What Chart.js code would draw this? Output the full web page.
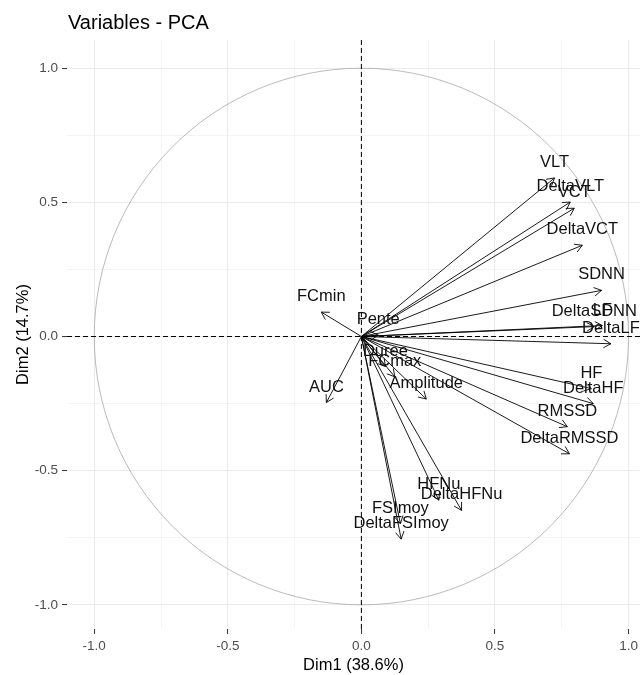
<!DOCTYPE html>
<html>
<head>
<meta charset="utf-8">
<script src="https://cdn.jsdelivr.net/npm/chart.js@4.4.1/dist/chart.umd.min.js"></script>
<style>
html, body { margin: 0; padding: 0; background: #fff; }
#wrap { width: 640px; height: 675px; }
</style>
</head>
<body>
<div id="wrap"><canvas id="pcaChart" width="640" height="675"></canvas></div>
<script>
// variable coordinates on the first two dimensions
const varNames = ['VLT', 'DeltaVLT', 'VCT', 'DeltaVCT', 'SDNN', 'DeltaSDNN', 'LF', 'DeltaLF',
    'HF', 'DeltaHF', 'RMSSD', 'DeltaRMSSD', 'HFNu', 'DeltaHFNu', 'FSImoy', 'DeltaFSImoy',
    'FCmin', 'AUC', 'Pente', 'Duree', 'FCmax', 'Amplitude'];
const dim1 = [0.723, 0.782, 0.797, 0.827, 0.899, 0.872, 0.902, 0.934,
    0.861, 0.868, 0.771, 0.779, 0.290, 0.375, 0.146, 0.149,
    -0.150, -0.131, 0.063, 0.090, 0.125, 0.243];
const dim2 = [0.591, 0.501, 0.478, 0.340, 0.172, 0.037, 0.041, -0.027,
    -0.194, -0.250, -0.336, -0.437, -0.610, -0.648, -0.697, -0.755,
    0.091, -0.246, 0.005, -0.112, -0.150, -0.233];
const axisTicks = [-1, -0.75, -0.5, -0.25, 0, 0.25, 0.5, 0.75, 1];

const FONT = "'Liberation Sans', Arial, sans-serif";
Chart.defaults.font.family = FONT;

function isMajor(v) {
    return Math.abs(v * 2 - Math.round(v * 2)) < 1e-6;
}

const datasets = varNames.map((name, i) => ({
    label: name,
    data: [{ x: 0, y: 0 }, { x: dim1[i], y: dim2[i] }],
    showLine: true,
    borderColor: '#000',
    borderWidth: 0.9,
    pointRadius: 0,
    pointHoverRadius: 0
}));

const pcaDecor = {
    id: 'pcaDecor',
    beforeDatasetsDraw(chart) {
        const { ctx, chartArea: a, scales: { x, y } } = chart;
        const cx = x.getPixelForValue(0);
        const cy = y.getPixelForValue(0);
        ctx.save();
        ctx.beginPath();
        ctx.rect(a.left, a.top, a.right - a.left, a.bottom - a.top);
        ctx.clip();
        // correlation circle
        ctx.strokeStyle = '#aaaaaa';
        ctx.lineWidth = 0.8;
        ctx.beginPath();
        ctx.ellipse(cx, cy, x.getPixelForValue(1) - cx, cy - y.getPixelForValue(1), 0, 0, Math.PI * 2);
        ctx.stroke();
        // dashed axes
        ctx.strokeStyle = '#000';
        ctx.lineWidth = 1;
        ctx.setLineDash([5, 3]);
        ctx.beginPath();
        ctx.moveTo(a.left, cy);
        ctx.lineTo(a.right, cy);
        ctx.moveTo(cx, a.top);
        ctx.lineTo(cx, a.bottom);
        ctx.stroke();
        ctx.restore();
    },
    afterDatasetsDraw(chart) {
        const { ctx, chartArea: a, scales: { x, y } } = chart;
        const x0 = x.getPixelForValue(0);
        const y0 = y.getPixelForValue(0);
        ctx.save();
        ctx.beginPath();
        ctx.rect(a.left, a.top, a.right - a.left, a.bottom - a.top);
        ctx.clip();
        // arrow heads
        ctx.strokeStyle = '#000';
        ctx.lineWidth = 0.9;
        const len = 8.5, ang = Math.PI / 6;
        varNames.forEach((name, i) => {
            const px = x.getPixelForValue(dim1[i]);
            const py = y.getPixelForValue(dim2[i]);
            const t = Math.atan2(py - y0, px - x0);
            ctx.beginPath();
            ctx.moveTo(px - len * Math.cos(t - ang), py - len * Math.sin(t - ang));
            ctx.lineTo(px, py);
            ctx.lineTo(px - len * Math.cos(t + ang), py - len * Math.sin(t + ang));
            ctx.stroke();
        });
        // labels
        ctx.fillStyle = '#111';
        ctx.font = '16.5px ' + FONT;
        ctx.textAlign = 'center';
        ctx.textBaseline = 'middle';
        varNames.forEach((name, i) => {
            const px = x.getPixelForValue(dim1[i]);
            const py = y.getPixelForValue(dim2[i]);
            ctx.fillText(name, px, py - 15.5);
        });
        ctx.restore();
    },
    afterDraw(chart) {
        const ctx = chart.ctx;
        ctx.save();
        ctx.fillStyle = '#000';
        ctx.font = '20px ' + FONT;
        ctx.textAlign = 'left';
        ctx.textBaseline = 'alphabetic';
        ctx.fillText('Variables - PCA', 68, 28.5);
        ctx.restore();
    }
};

function axisOptions(min, max, titleText, isX) {
    return {
        type: 'linear',
        min: min,
        max: max,
        afterBuildTicks: s => { s.ticks = axisTicks.map(v => ({ value: v })); },
        ticks: {
            callback: v => isMajor(v) ? v.toFixed(1) : '',
            color: '#4d4d4d',
            font: { size: 13.5 },
            padding: 4,
            autoSkip: false,
            maxRotation: 0
        },
        grid: {
            color: '#ebebeb',
            lineWidth: c => (c.tick && isMajor(c.tick.value)) ? 1.1 : 0.55,
            tickColor: c => (c.tick && isMajor(c.tick.value)) ? '#333333' : 'rgba(0,0,0,0)',
            tickWidth: 1,
            tickLength: 5
        },
        border: { display: false },
        title: {
            display: true,
            text: titleText,
            color: '#000',
            font: { size: 16.5 },
            padding: isX ? { top: 0, bottom: 0 } : { top: 14, bottom: 0 }
        },
        afterFit: s => {
            if (isX) {
                s.height = 46;
                s.paddingLeft = 0;
                s.paddingRight = 0;
            } else {
                s.width = 67;
                s.paddingTop = 0;
                s.paddingBottom = 0;
            }
        }
    };
}

const ctx = document.getElementById('pcaChart').getContext('2d');
const pcaChart = new Chart(ctx, {
    type: 'scatter',
    data: { datasets: datasets },
    options: {
        responsive: false,
        animation: false,
        layout: { padding: { top: 40, left: 0, right: 0, bottom: 0 } },
        plugins: {
            legend: { display: false },
            tooltip: { enabled: false }
        },
        scales: {
            x: axisOptions(-1.102, 1.043, 'Dim1 (38.6%)', true),
            y: axisOptions(-1.09, 1.105, 'Dim2 (14.7%)', false)
        }
    },
    plugins: [pcaDecor]
});
</script>
</body>
</html>
